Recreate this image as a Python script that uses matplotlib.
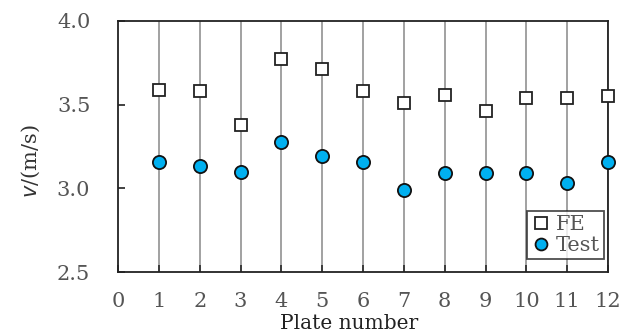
import matplotlib
matplotlib.use("Agg")
import matplotlib.pyplot as plt

plates = [1, 2, 3, 4, 5, 6, 7, 8, 9, 10, 11, 12]
fe_values = [3.59, 3.58, 3.38, 3.77, 3.71, 3.58, 3.51, 3.56, 3.46, 3.54, 3.54, 3.55]
test_values = [3.155, 3.135, 3.10, 3.275, 3.195, 3.155, 2.99, 3.09, 3.09, 3.09, 3.035, 3.155]
x_ticks = list(range(0, 13))
y_ticks = [2.5, 3.0, 3.5, 4.0]

plt.rcParams['font.family'] = ['DejaVu Serif']

fig = plt.figure(figsize=(6.38, 3.36), dpi=100)
ax = fig.add_axes([0.185, 0.19, 0.768, 0.748])

for x in plates:
    ax.axvline(x, color='#9a9a9a', lw=1.3, zorder=1)

ax.plot(plates, fe_values, linestyle='none', marker='s', markersize=9,
        markerfacecolor='white', markeredgecolor='#222222', markeredgewidth=1.3,
        label='FE', zorder=3, clip_on=False)
ax.plot(plates, test_values, linestyle='none', marker='o', markersize=9.5,
        markerfacecolor='#00b0f0', markeredgecolor='#111111', markeredgewidth=1.3,
        label='Test', zorder=3, clip_on=False)

ax.set_xlim(0, 12)
ax.set_ylim(2.5, 4.0)
ax.set_xticks(x_ticks)
ax.set_yticks(y_ticks)
ax.set_yticklabels([f"{v:.1f}" for v in y_ticks])
ax.tick_params(axis='both', direction='in', length=5, width=1.3, colors='#333333',
               labelsize=15, labelcolor='#555555')
ax.tick_params(axis='x', pad=14)
ax.tick_params(axis='y', pad=20)
for s in ax.spines.values():
    s.set_linewidth(1.3)
    s.set_color('#222222')

ax.set_xlabel('Plate number', fontsize=14.5, color='#222222')
ax.xaxis.set_label_coords(0.471, -0.165)
ax.set_ylabel(r'$\mathit{v}$/(m/s)', fontsize=15, color='#333333')
ax.yaxis.set_label_coords(-0.155, 0.44)

leg = ax.legend(loc='lower right', bbox_to_anchor=(0.992, 0.052), fontsize=15,
                frameon=True, fancybox=False,
                handletextpad=0.2, handlelength=1.0, borderpad=0.2,
                labelspacing=0.1, borderaxespad=0.0, markerscale=0.9)
leg.get_frame().set_edgecolor('#222222')
leg.get_frame().set_linewidth(1.3)
for t in leg.get_texts():
    t.set_color('#555555')

fig.savefig('out.png', dpi=100)
